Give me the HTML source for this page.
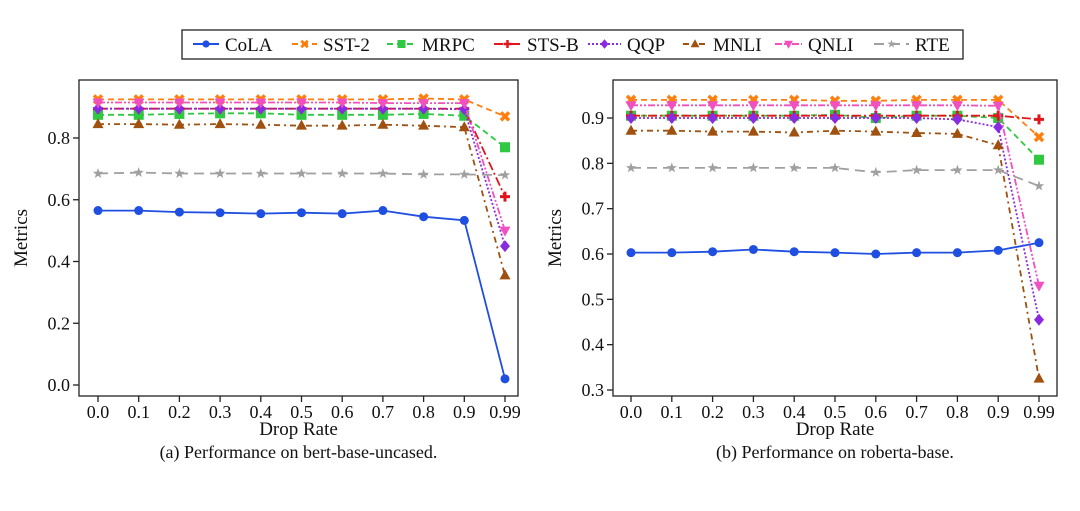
<!DOCTYPE html>
<html><head><meta charset="utf-8"><style>
body{margin:0;background:#fff;}
svg{display:block;font-family:"Liberation Serif",serif;}
</style></head><body>
<svg id="c" width="1080" height="511" viewBox="0 0 1080 511"></svg>
<script>
const categories=["0.0","0.1","0.2","0.3","0.4","0.5","0.6","0.7","0.8","0.9","0.99"];
const seriesNames=["CoLA","SST-2","MRPC","STS-B","QQP","MNLI","QNLI","RTE"];
const bertCoLA=[0.565,0.565,0.56,0.558,0.555,0.558,0.555,0.565,0.545,0.533,0.02];
const bertSST2=[0.925,0.925,0.925,0.925,0.925,0.925,0.925,0.925,0.928,0.925,0.87];
const bertMRPC=[0.875,0.875,0.878,0.88,0.88,0.875,0.875,0.875,0.878,0.872,0.77];
const bertSTSB=[0.895,0.895,0.895,0.895,0.895,0.895,0.895,0.895,0.895,0.895,0.61];
const bertQQP=[0.895,0.895,0.895,0.895,0.895,0.895,0.895,0.895,0.895,0.893,0.45];
const bertMNLI=[0.845,0.845,0.843,0.845,0.843,0.84,0.84,0.843,0.84,0.835,0.355];
const bertQNLI=[0.915,0.915,0.915,0.915,0.915,0.915,0.915,0.913,0.913,0.913,0.5];
const bertRTE=[0.685,0.688,0.685,0.685,0.685,0.685,0.685,0.685,0.682,0.682,0.68];
const robCoLA=[0.603,0.603,0.605,0.61,0.605,0.603,0.6,0.603,0.603,0.608,0.625];
const robSST2=[0.94,0.94,0.94,0.94,0.94,0.938,0.938,0.94,0.94,0.94,0.858];
const robMRPC=[0.905,0.905,0.905,0.905,0.905,0.907,0.9,0.905,0.905,0.9,0.808];
const robSTSB=[0.905,0.905,0.905,0.905,0.905,0.905,0.905,0.905,0.905,0.905,0.897];
const robQQP=[0.9,0.9,0.9,0.9,0.9,0.9,0.9,0.9,0.897,0.88,0.455];
const robMNLI=[0.872,0.872,0.87,0.87,0.868,0.872,0.87,0.867,0.865,0.84,0.325];
const robQNLI=[0.928,0.928,0.928,0.928,0.928,0.928,0.928,0.928,0.928,0.927,0.53];
const robRTE=[0.79,0.79,0.79,0.79,0.79,0.79,0.78,0.785,0.785,0.785,0.75];
const bertTicks=[0.0,0.2,0.4,0.6,0.8];
const bertTickLabels=["0.0","0.2","0.4","0.6","0.8"];
const robTicks=[0.3,0.4,0.5,0.6,0.7,0.8,0.9];
const robTickLabels=["0.3","0.4","0.5","0.6","0.7","0.8","0.9"];

const colors=["#1f4fe0","#ff7f0e","#2ec940","#e0161c","#8a2be2","#a0500f","#f050c0","#a0a0a0"];
const dashes=["","6,4","6,4","9,3,2,3","2,2","6,4,2,4","7,2,2,2,2,2","10,6"];
const markers=["circle","x","square","plus","diamond","tri","tridown","star"];
const NS="http://www.w3.org/2000/svg";
const svg=document.getElementById("c");
function mk(tag,attrs,parent){const e=document.createElementNS(NS,tag);for(const k in attrs)e.setAttribute(k,attrs[k]);(parent||svg).appendChild(e);return e;}

function marker(g,type,x,y,col,k){
  k=k||1;let e;const s=5*k;
  if(type==="circle")e=mk("circle",{cx:x,cy:y,r:4.5*k,fill:col},g);
  else if(type==="square")e=mk("rect",{x:x-s,y:y-s,width:2*s,height:2*s,fill:col},g);
  else if(type==="diamond")e=mk("polygon",{points:`${x},${y-6*k} ${x+5*k},${y} ${x},${y+6*k} ${x-5*k},${y}`,fill:col},g);
  else if(type==="tri")e=mk("polygon",{points:`${x},${y-6*k} ${x+5.5*k},${y+4*k} ${x-5.5*k},${y+4*k}`,fill:col},g);
  else if(type==="tridown")e=mk("polygon",{points:`${x},${y+6*k} ${x+5.5*k},${y-4*k} ${x-5.5*k},${y-4*k}`,fill:col},g);
  else if(type==="plus")e=mk("path",{d:`M${x-s},${y}H${x+s}M${x},${y-s}V${y+s}`,stroke:col,"stroke-width":3*k},g);
  else if(type==="x")e=mk("path",{d:`M${x-4*k},${y-4*k}L${x+4*k},${y+4*k}M${x+4*k},${y-4*k}L${x-4*k},${y+4*k}`,stroke:col,"stroke-width":3.5*k},g);
  else if(type==="star"){let p=[];for(let i=0;i<10;i++){const r=(i%2?2.2:5.5)*k,a=-Math.PI/2+i*Math.PI/5;p.push((x+r*Math.cos(a)).toFixed(1)+","+(y+r*Math.sin(a)).toFixed(1));}e=mk("polygon",{points:p.join(" "),fill:col},g);}
  
  
}

function chart(id,L,R,T,B,x0,x1,v0,y0,v1,y1,ticks,tickLabels,series,caption){
  const g=mk("g",{});
  
  
  const X=i=>x0+(x1-x0)*i/(categories.length-1);
  const Y=v=>y0+(y1-y0)*(v-v0)/(v1-v0);
  const f=mk("rect",{x:L,y:T,width:R-L,height:B-T,fill:"none",stroke:"#222","stroke-width":1.3},g);
  
  
  ticks.forEach((t,i)=>{const y=Y(t);
    mk("line",{x1:L-6,x2:L,y1:y,y2:y,stroke:"#222","stroke-width":1.3},g);
    const tx=mk("text",{x:L-9,y:y+6,"text-anchor":"end","font-size":18,fill:"#111"},g);tx.textContent=tickLabels[i];
    
    
  });
  categories.forEach((c,i)=>{const x=X(i);
    mk("line",{x1:x,x2:x,y1:B,y2:B+6,stroke:"#222","stroke-width":1.3},g);
    const tx=mk("text",{x:x,y:B+22,"text-anchor":"middle","font-size":18,fill:"#111"},g);tx.textContent=c;
    
    
  });
  const xt=mk("text",{x:(L+R)/2,y:B+39,"text-anchor":"middle","font-size":19,fill:"#111"},g);xt.textContent="Drop Rate";
  
  
  const yt=mk("text",{x:0,y:0,"text-anchor":"middle","font-size":19,fill:"#111",transform:`translate(${L-52},${(T+B)/2}) rotate(-90)`},g);yt.textContent="Metrics";
  
  
  const cp=mk("text",{x:(L+R)/2,y:B+62,"text-anchor":"middle","font-size":18,fill:"#111"},g);cp.textContent=caption;
  
  
  series.forEach((vals,si)=>{
    const pts=vals.map((v,i)=>X(i).toFixed(1)+","+Y(v).toFixed(1)).join(" ");
    const pl=mk("polyline",{points:pts,fill:"none",stroke:colors[si],"stroke-width":1.8,"stroke-dasharray":dashes[si]},g);
    
    
    vals.forEach((v,i)=>marker(g,markers[si],X(i),Y(v),colors[si]));
  });
}
chart("chart-bert",79,518,80,396,98,505,0,385,0.8,138,bertTicks,bertTickLabels,
  [bertCoLA,bertSST2,bertMRPC,bertSTSB,bertQQP,bertMNLI,bertQNLI,bertRTE],"(a) Performance on bert-base-uncased.");
chart("chart-roberta",613,1057,80,396,631,1039,0.3,390,0.9,118,robTicks,robTickLabels,
  [robCoLA,robSST2,robMRPC,robSTSB,robQQP,robMNLI,robQNLI,robRTE],"(b) Performance on roberta-base.");

// legend
const lg=mk("g",{});


mk("rect",{x:182,y:30,width:781,height:29,fill:"#fff",stroke:"#222","stroke-width":1.3},lg);
const handleX=[193,292,387,494,588,683,775,874];
const textX=[225,323,422,527,627,713,808,915];
seriesNames.forEach((n,si)=>{
  const e=mk("g",{},lg);
  
  
  const hx=handleX[si], hw=textX[si]-hx-6;
  mk("line",{x1:hx,x2:hx+hw,y1:44,y2:44,stroke:colors[si],"stroke-width":2,"stroke-dasharray":dashes[si]},e);
  marker(e,markers[si],hx+hw/2,44,colors[si],0.8);
  const t=mk("text",{x:textX[si],y:51,"font-size":19,fill:"#111"},e);t.textContent=n;
});
</script>
</body></html>
